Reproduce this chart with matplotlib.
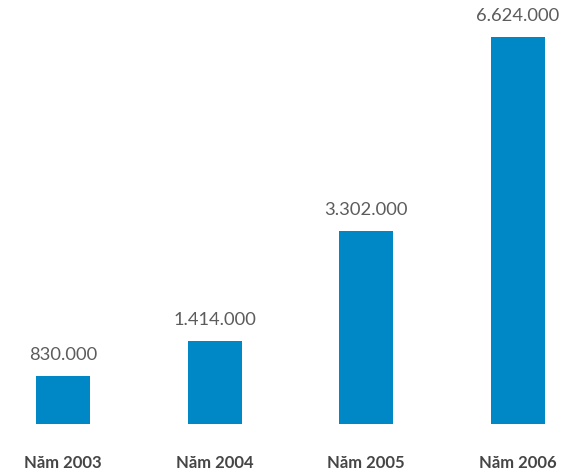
import matplotlib.pyplot as plt

nam = ["Năm 2003", "Năm 2004", "Năm 2005", "Năm 2006"]
gia_tri = [830000, 1414000, 3302000, 6624000]
nhan = ["830.000", "1.414.000", "3.302.000", "6.624.000"]

mau_cot = "#0087c5"

fig = plt.figure(figsize=(5.61, 4.74), dpi=100)
ax = fig.add_axes([0, 50 / 474, 1, 424 / 474])

x = range(len(nam))
cot = ax.bar(x, gia_tri, width=0.356, color=mau_cot)

# so lieu tren dau cot
for i, v in enumerate(gia_tri):
    ax.annotate(nhan[i], (i, v), xytext=(0, 11.5), textcoords="offset points",
                ha="center", va="baseline", fontsize=13.2, color="#5c5c5c",
                family="Lato")

ax.set_xlim(-0.415, 3.284)
ax.set_ylim(0, 6624000 * 424 / 387)
ax.set_xticks(list(x))
ax.set_xticklabels(nam, fontsize=12, fontweight="bold", color="#454545",
                   family="Lato")
ax.tick_params(axis="x", length=0, pad=22)
ax.set_yticks([])
for s in ax.spines.values():
    s.set_visible(False)

fig.savefig("out.png", dpi=100)
